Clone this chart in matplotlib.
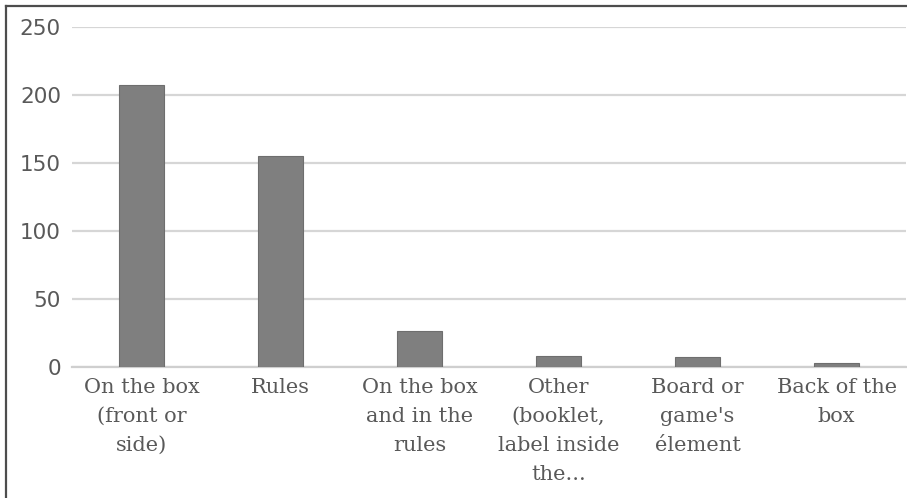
import matplotlib
matplotlib.use("Agg")
import matplotlib.pyplot as plt
from matplotlib.lines import Line2D

categories = [
    "On the box\n(front or\nside)",
    "Rules",
    "On the box\nand in the\nrules",
    "Other\n(booklet,\nlabel inside\nthe...",
    "Board or\ngame's\nélement",
    "Back of the\nbox",
]
counts = [207, 155, 26, 8, 7, 3]
yticks = [0, 50, 100, 150, 200, 250]

text_col = "#595959"

fig = plt.figure(figsize=(9.07, 4.98), dpi=100)
ax = fig.add_axes([0.0794, 0.2637, 0.9196, 0.6827])

x = list(range(len(categories)))
ax.bar(x, counts, width=0.32, color="#7f7f7f", edgecolor="#6e6e6e", linewidth=0.8, zorder=3)

ax.set_ylim(0, 250)
ax.set_xlim(-0.5, len(categories) - 0.5)
ax.set_yticks(yticks)
ax.set_yticklabels([str(v) for v in yticks], fontsize=15.5, color=text_col, family="DejaVu Sans")
ax.set_xticks(x)
ax.set_xticklabels(categories, fontsize=15, color=text_col, family="DejaVu Serif", linespacing=1.68)
ax.tick_params(axis="both", length=0)
ax.tick_params(axis="y", pad=8)
ax.tick_params(axis="x", pad=8)

ax.yaxis.grid(True, color="#d6d6d6", linewidth=1.6, zorder=0)
for s in ["top", "right", "left"]:
    ax.spines[s].set_visible(False)
ax.spines["bottom"].set_color("#cfcfcf")
ax.spines["bottom"].set_linewidth(1.6)

# frame around the picture (cut off on the right and bottom)
fig.add_artist(Line2D([5.5 / 907, 5.5 / 907], [0, 1 - 6 / 498], color="#4d4d4d", linewidth=1.6, transform=fig.transFigure))
fig.add_artist(Line2D([5.5 / 907, 1], [1 - 6 / 498, 1 - 6 / 498], color="#4d4d4d", linewidth=1.6, transform=fig.transFigure))

fig.savefig("out.png", dpi=100)
